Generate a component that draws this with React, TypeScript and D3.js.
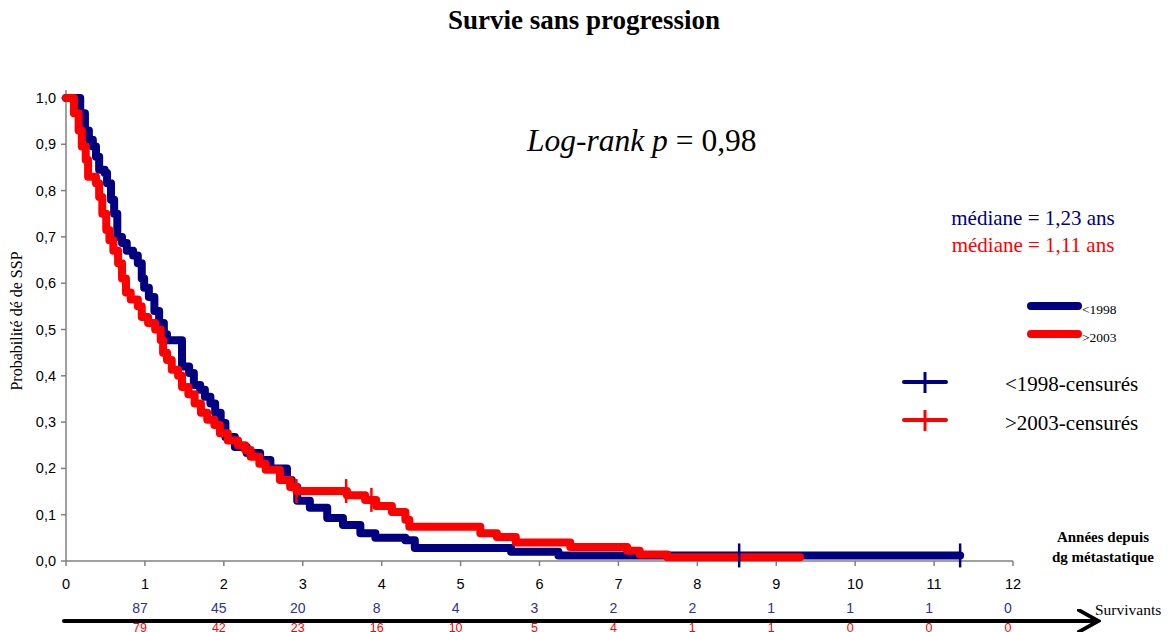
import React from "react";
import * as d3 from "d3";

// Kaplan-Meier steps: [années, probabilité]
const before1998 = [
  [0, 1.0], [0.18, 0.967], [0.24, 0.93], [0.29, 0.91], [0.34, 0.895], [0.38, 0.873],
  [0.42, 0.845], [0.49, 0.838], [0.52, 0.816], [0.57, 0.78], [0.61, 0.75], [0.65, 0.7],
  [0.71, 0.687], [0.77, 0.67], [0.85, 0.66], [0.91, 0.643], [0.96, 0.61], [0.99, 0.59],
  [1.05, 0.57], [1.12, 0.54], [1.18, 0.514], [1.24, 0.49], [1.28, 0.477], [1.47, 0.42],
  [1.56, 0.406], [1.62, 0.38], [1.7, 0.37], [1.76, 0.355], [1.83, 0.34], [1.89, 0.32],
  [1.96, 0.298], [2.02, 0.268], [2.14, 0.246], [2.29, 0.233], [2.46, 0.218], [2.59, 0.2],
  [2.8, 0.175], [2.86, 0.16], [2.93, 0.13], [3.09, 0.115], [3.31, 0.093], [3.51, 0.078],
  [3.73, 0.06], [3.92, 0.05], [4.3, 0.045], [4.42, 0.028], [5.64, 0.02], [6.24, 0.012],
  [11.33, 0.012],
];
const after2003 = [
  [0, 1.0], [0.1, 0.967], [0.16, 0.93], [0.2, 0.895], [0.25, 0.866], [0.28, 0.83],
  [0.38, 0.816], [0.42, 0.786], [0.46, 0.75], [0.51, 0.715], [0.55, 0.693], [0.6, 0.67],
  [0.66, 0.643], [0.71, 0.61], [0.76, 0.58], [0.82, 0.565], [0.91, 0.55], [0.96, 0.527],
  [1.04, 0.514], [1.13, 0.5], [1.2, 0.477], [1.23, 0.45], [1.28, 0.434], [1.34, 0.413],
  [1.42, 0.4], [1.47, 0.376], [1.55, 0.36], [1.63, 0.34], [1.71, 0.32], [1.79, 0.305],
  [1.88, 0.294], [1.95, 0.276], [2.05, 0.26], [2.18, 0.25], [2.27, 0.24], [2.34, 0.225],
  [2.45, 0.21], [2.53, 0.197], [2.71, 0.175], [2.84, 0.16], [2.92, 0.151], [3.56, 0.142],
  [3.79, 0.132], [3.93, 0.119], [4.13, 0.106], [4.3, 0.089], [4.35, 0.074], [5.25, 0.06],
  [5.46, 0.052], [5.7, 0.04], [6.39, 0.03], [7.11, 0.022], [7.27, 0.014], [7.62, 0.008],
  [9.3, 0.008],
];
const censoredBefore = [8.53, 11.33];
const censoredAfter = [2.92, 3.55, 3.87];

const xTicks = d3.range(0, 13);
const yTicks = d3.range(0, 11).map((d) => d / 10);
const survivorsBefore = [87, 45, 20, 8, 4, 3, 2, 2, 1, 1, 1, 0];
const survivorsAfter = [79, 42, 23, 16, 10, 5, 4, 1, 1, 0, 0, 0];

const BLUE = "#000080";
const RED = "#ff0000";
const serif = "'Liberation Serif', 'Times New Roman', serif";
const sans = "'Liberation Sans', Arial, sans-serif";

function survivalAt(data: number[][], t: number) {
  let v = data[0][1];
  for (const [ti, si] of data) if (ti <= t) v = si;
  return v;
}

export default function App() {
  const width = 1168;
  const height = 632;
  const x = d3.scaleLinear().domain([0, 12]).range([66, 1013]);
  const y = d3.scaleLinear().domain([0, 1]).range([561, 98]);

  const line = d3
    .line<number[]>()
    .x((d) => x(d[0]))
    .y((d) => y(d[1]))
    .curve(d3.curveStepAfter);

  const fmt = (v: number) => v.toFixed(1).replace(".", ",");

  const censorMark = (t: number, data: number[][], color: string) => {
    const cy = y(survivalAt(data, t));
    return (
      <line key={color + t} x1={x(t)} x2={x(t)} y1={cy - 12} y2={cy + 12} stroke={color} strokeWidth={2.5} />
    );
  };

  return (
    <svg
      width={width}
      height={height}
      style={{ position: "absolute", left: 0, top: 0, background: "#fff" }}
    >
      <defs>
        <marker id="arrow" viewBox="0 0 10 10" refX="8" refY="5" markerWidth="6" markerHeight="6" orient="auto" markerUnits="strokeWidth">
          <path d="M0,0 L9,5 L0,10" fill="none" stroke="#000" strokeWidth={1.6} />
        </marker>
      </defs>

      <text x={584} y={29} textAnchor="middle" fontFamily={serif} fontWeight="bold" fontSize={27}>
        Survie sans progression
      </text>

      {/* axes */}
      <line x1={66} x2={66} y1={90} y2={561} stroke="#808080" strokeWidth={1.5} />
      <line x1={66} x2={1013} y1={561} y2={561} stroke="#808080" strokeWidth={1.5} />
      {yTicks.map((t) => (
        <g key={"y" + t}>
          <line x1={61} x2={66} y1={y(t)} y2={y(t)} stroke="#808080" strokeWidth={1.5} />
          <text x={56} y={y(t) + 5} textAnchor="end" fontFamily={sans} fontSize={14.5}>
            {fmt(t)}
          </text>
        </g>
      ))}
      {xTicks.map((t) => (
        <g key={"x" + t}>
          <line x1={x(t)} x2={x(t)} y1={561} y2={566} stroke="#808080" strokeWidth={1.5} />
          <text x={x(t)} y={589} textAnchor="middle" fontFamily={sans} fontSize={14.5}>
            {t}
          </text>
        </g>
      ))}

      <text
        transform="translate(22,321) rotate(-90)"
        textAnchor="middle"
        fontFamily={serif}
        fontSize={16}
      >
        Probabilité dé de SSP
      </text>

      {/* curves */}
      <path d={line(before1998) ?? ""} fill="none" stroke={BLUE} strokeWidth={8} strokeLinejoin="round" strokeLinecap="round" />
      <path d={line(after2003) ?? ""} fill="none" stroke={RED} strokeWidth={8} strokeLinejoin="round" strokeLinecap="round" />
      {censoredBefore.map((t) => censorMark(t, before1998, BLUE))}
      {censoredAfter.map((t) => censorMark(t, after2003, RED))}

      <text x={527} y={151} fontFamily={serif} fontSize={31.5}>
        <tspan fontStyle="italic">Log-rank p</tspan>
        <tspan> = 0,98</tspan>
      </text>

      <text x={1033} y={225} textAnchor="middle" fontFamily={serif} fontSize={21}>
        <tspan fill={BLUE}>médiane = 1,23 ans</tspan>
      </text>
      <text x={1033} y={252} textAnchor="middle" fontFamily={serif} fontSize={21}>
        <tspan fill={RED}>médiane = 1,11 ans</tspan>
      </text>

      {/* legend */}
      <line x1={1031} x2={1078} y1={306} y2={306} stroke={BLUE} strokeWidth={8} strokeLinecap="round" />
      <text x={1082} y={314} fontFamily={serif} fontSize={13.5}>&lt;1998</text>
      <line x1={1031} x2={1078} y1={334} y2={334} stroke={RED} strokeWidth={8} strokeLinecap="round" />
      <text x={1082} y={342} fontFamily={serif} fontSize={13.5}>&gt;2003</text>

      <line x1={904} x2={946} y1={382} y2={382} stroke={BLUE} strokeWidth={4} strokeLinecap="round" />
      <line x1={925} x2={925} y1={372} y2={393} stroke={BLUE} strokeWidth={3} />
      <text x={1005} y={391} fontFamily={serif} fontSize={21}>&lt;1998-censurés</text>
      <line x1={904} x2={946} y1={420} y2={420} stroke={RED} strokeWidth={4} strokeLinecap="round" />
      <line x1={925} x2={925} y1={410} y2={431} stroke={RED} strokeWidth={3} />
      <text x={1005} y={430} fontFamily={serif} fontSize={21}>&gt;2003-censurés</text>

      <text x={1103} y={542} textAnchor="middle" fontFamily={serif} fontWeight="bold" fontSize={15}>
        Années depuis
      </text>
      <text x={1103} y={562} textAnchor="middle" fontFamily={serif} fontWeight="bold" fontSize={15}>
        dg métastatique
      </text>

      {/* survivants */}
      {survivorsBefore.map((n, i) => (
        <text key={"sb" + i} x={x(i + 1) - 5} y={613} textAnchor="middle" fontFamily={sans} fontSize={14} fill="#2e3192">
          {n}
        </text>
      ))}
      <line x1={64} x2={1096} y1={621} y2={621} stroke="#000" strokeWidth={4} strokeLinecap="round" markerEnd="url(#arrow)" />
      {survivorsAfter.map((n, i) => (
        <text key={"sa" + i} x={x(i + 1) - 5} y={631.5} textAnchor="middle" fontFamily={sans} fontSize={12.5} fill={RED}>
          {n}
        </text>
      ))}
      <text x={1095} y={615} fontFamily={serif} fontSize={15.5}>
        Survivants
      </text>
    </svg>
  );
}
